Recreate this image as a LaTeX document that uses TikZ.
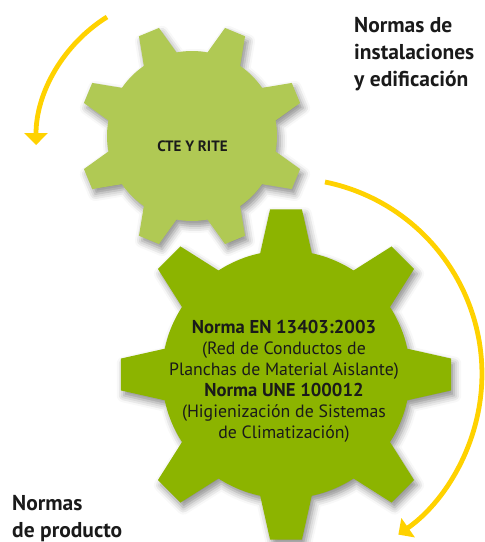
\documentclass[tikz,border=0pt]{standalone}
\usepackage{fontspec}
\setmainfont{PT Sans}
\usetikzlibrary{arrows.meta,shadows.blur}

\definecolor{lightgear}{RGB}{176,201,84}
\definecolor{darkgear}{RGB}{140,180,0}
\definecolor{flowyellow}{RGB}{255,210,0}
\definecolor{inktext}{RGB}{26,26,26}

\tikzset{
  gearfill/.style={fill=#1, blur shadow={shadow xshift=3pt, shadow yshift=-5pt,
      shadow blur radius=7pt, shadow opacity=45}},
  flow/.style={draw=flowyellow, line width=4.8pt, -{Triangle[width=23pt,length=12pt]}},
  heading/.style={font=\bfseries\fontsize{21.5}{27}\selectfont, text=inktext,
      align=left, inner sep=0pt},
  geartext/.style={text=inktext, align=center, inner sep=0pt},
}

\begin{document}
\begin{tikzpicture}[x=1pt,y=1pt]
  \useasboundingbox (0,0) rectangle (485,542);

  \coordinate (big) at (286,167.5);
  \coordinate (small) at (192,406);

  % big gear, 8 teeth on the axes
  \begin{scope}[shift={(big)}]
    \fill[gearfill=darkgear] (-12:124)
      \foreach \k in {0,...,7}{
        -- (45*\k-5.5:166) -- (45*\k+5.5:166) -- (45*\k+12:124)
        arc[start angle=45*\k+12, end angle=45*\k+33, radius=124]
      } -- cycle;
  \end{scope}

  % small gear, turned half a tooth
  \begin{scope}[shift={(small)}]
    \fill[gearfill=lightgear] (10.5:85)
      \foreach \k in {0,...,7}{
        -- (22.5+45*\k-5.5:113) -- (22.5+45*\k+5.5:113) -- (22.5+45*\k+12:85)
        arc[start angle=22.5+45*\k+12, end angle=22.5+45*\k+33, radius=85]
      } -- cycle;
  \end{scope}

  \node[geartext, font=\bfseries\fontsize{15}{18}\selectfont] (cte) at (192.5,395.3) {CTE Y RITE};
  \node[geartext, font=\fontsize{17.8}{21}\selectfont] (une) at (284,160.5)
    {{\fontsize{18.6}{21}\selectfont\bfseries Norma EN 13403:2003}\\(Red de Conductos de\\Planchas de Material Aislante)\\
     {\fontsize{18.6}{21}\selectfont\bfseries Norma UNE 100012}\\(Higienización de Sistemas\\de Climatización)};

  \node[heading, anchor=north west] (inst) at (354,525) {Normas de\\instalaciones\\y edificación};
  \node[heading, anchor=north west] (prod) at (12,47) {Normas\\de producto};

  % arrows round the gears
  \coordinate (s1) at (107,525);
  \coordinate (s2) at (325,360);
  \draw[flow] (s1) arc[start angle=122, end angle=180, radius=151];
  \draw[flow] (s2) arc[start angle=78.5, end angle=-55, radius=196];
\end{tikzpicture}
\end{document}
